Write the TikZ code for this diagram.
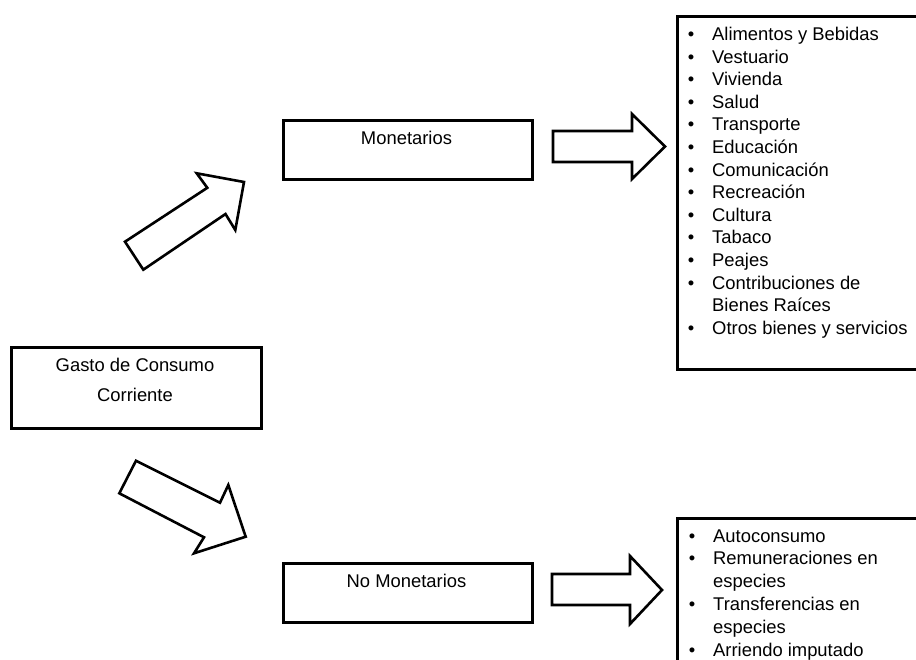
\documentclass[tikz,border=0pt]{standalone}
\usepackage{fontspec}
\setmainfont{Liberation Sans}
\begin{document}
\begin{tikzpicture}[x=1pt,y=-1pt,
  box/.style={draw, line width=2.6pt, fill=white, inner sep=0pt},
  blockarrow/.style={draw, line width=2.6pt, line join=miter, fill=white},
  txt/.style={font=\fontsize{18.4}{22}\selectfont, inner sep=0pt, anchor=base},
  item/.style={font=\fontsize{18.4}{22}\selectfont, inner sep=0pt, anchor=base west},
  bul/.style={font=\fontsize{18.4}{22}\selectfont, inner sep=0pt, anchor=base}]
\useasboundingbox (0,0) rectangle (916,659);
\clip (0,0) rectangle (916,659);

% boxes
\node[box, minimum width=250pt, minimum height=81pt, anchor=north west] (gasto) at (10,346) {};
\node[box, minimum width=249pt, minimum height=59pt, anchor=north west] (mon) at (282,119) {};
\node[box, minimum width=249pt, minimum height=59pt, anchor=north west] (nomon) at (282,562) {};
\node[box, minimum width=264pt, minimum height=353pt, anchor=north west] (list1) at (676,15) {};
\node[box, minimum width=264pt, minimum height=170pt, anchor=north west] (list2) at (676,517) {};

% box texts
\node[txt] (gt1) at (135,371.5) {Gasto de Consumo};
\node[txt] (gt2) at (135,401) {Corriente};
\node[txt] (mt) at (406.5,144) {Monetarios};
\node[txt] (nmt) at (406.5,587) {No Monetarios};

% list 1
\foreach [count=\i from 0] \t/\b in {Alimentos  y Bebidas/1,Vestuario/1,Vivienda/1,Salud/1,Transporte/1,Educación/1,Comunicación/1,Recreación/1,Cultura/1,Tabaco/1,Peajes/1,Contribuciones de/1,Bienes Raíces/0,Otros bienes y servicios/1}{
  \node[item] (la\i) at (712,40.5+\i*22.6) {\t};
  \ifnum\b=1 \node[bul] (ba\i) at (691,40.5+\i*22.6) {\textbullet};\fi
}

% list 2
\foreach [count=\i from 0] \t/\b in {Autoconsumo/1,Remuneraciones en/1,especies/0,Transferencias en/1,especies/0,Arriendo imputado/1}{
  \node[item] (lb\i) at (713,542+\i*22.8) {\t};
  \ifnum\b=1 \node[bul] (bb\i) at (692,542+\i*22.8) {\textbullet};\fi
}

% block arrows
\draw[blockarrow] (125,241.7) -- (143.3,269.7) -- (225.5,214) -- (235.3,230) -- (244,182) -- (196.7,173.3) -- (207.3,187.8) -- cycle;
\draw[blockarrow] (136,460.7) -- (119.3,493.3) -- (204,537.3) -- (194,553.3) -- (245.7,536.7) -- (228.3,485) -- (220,502.7) -- cycle;
\draw[blockarrow] (553,131) -- (632,131) -- (632,114) -- (665,146.5) -- (632,179) -- (632,162) -- (553,162) -- cycle;
\draw[blockarrow] (552,574) -- (630,574) -- (630,556) -- (662,590) -- (630,624) -- (630,605) -- (552,605) -- cycle;
\end{tikzpicture}
\end{document}
